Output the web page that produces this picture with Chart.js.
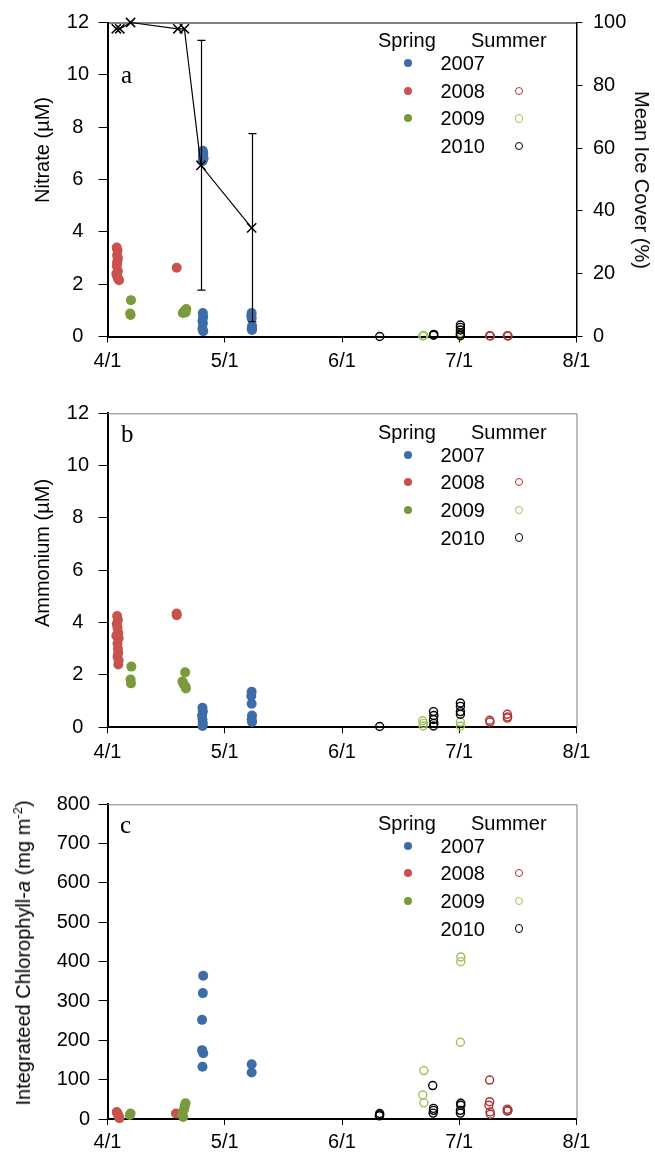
<!DOCTYPE html>
<html lang="en">
<head>
<meta charset="UTF-8">
<title>Nitrate, ammonium and chlorophyll-a</title>
<script src="https://cdn.jsdelivr.net/npm/chart.js@4"></script>
<style>
body{margin:0;background:#fff;font-family:'Liberation Sans',Arial,sans-serif;color:#000}
#page{position:relative;width:655px;height:1152px;overflow:hidden}
.panel{position:absolute;left:0;width:655px}
.panel canvas{position:absolute;left:0;top:0}
.ytitle{position:absolute;font-size:20px;line-height:20px;white-space:nowrap;transform:translate(-50%,-50%) rotate(-90deg)}
.ytitle.right{transform:translate(-50%,-50%) rotate(90deg)}
.ytitle sup{font-size:13px;line-height:0}
.letter{position:absolute;font-family:'Liberation Serif','Times New Roman',serif;font-size:25px;line-height:25px}
.lg{position:absolute;font-size:20px;line-height:20px;white-space:nowrap}
.dot{position:absolute;width:8px;height:8px;border-radius:50%;box-sizing:border-box}
</style>
</head>
<body>
<div id="page">
  <div class="panel" style="top:0;height:380px"><canvas id="chartA" width="655" height="380"></canvas></div>
  <div class="panel" style="top:390px;height:380px"><canvas id="chartB" width="655" height="380"></canvas></div>
  <div class="panel" style="top:780px;height:372px"><canvas id="chartC" width="655" height="372"></canvas></div>

  <div class="ytitle" style="left:42px;top:150px">Nitrate (µM)</div>
  <div class="ytitle right" style="left:642px;top:180px">Mean Ice Cover (%)</div>
  <div class="ytitle" style="left:42px;top:553px">Ammonium (µM)</div>
  <div class="ytitle" style="left:23px;top:953px">Integrateed Chlorophyll-<i>a</i> (mg m<sup>-2</sup>)</div>

  <div class="letter" style="left:121px;top:62px">a</div>
  <div class="letter" style="left:121px;top:421px">b</div>
  <div class="letter" style="left:120px;top:812px">c</div>
</div>

<script>
// x = days after 4/1, Excel puts a major tick every 30.5 days
const xTicks = [0, 30.5, 61, 91.5, 122];
const xLabels = ['4/1', '5/1', '6/1', '7/1', '8/1'];
const concTicks = [0, 2, 4, 6, 8, 10, 12];
const chlTicks = [0, 100, 200, 300, 400, 500, 600, 700, 800];
const iceTicks = [0, 20, 40, 60, 80, 100];

// panel a - nitrate (uM) as [day, value]
const no3Spring2007 = [[24.8,7.1],[24.9,7.0],[24.8,6.9],[25.0,6.8],[24.7,6.7],[24.8,0.9],[24.9,0.75],[24.7,0.6],[24.8,0.5],[24.7,0.3],[24.9,0.2],
  [37.5,0.9],[37.4,0.8],[37.5,0.7],[37.6,0.4],[37.5,0.3],[37.6,0.25]];
const no3Spring2008 = [[2.4,3.4],[2.6,3.3],[2.5,3.1],[2.7,3.0],[2.6,2.9],[2.5,2.8],[2.4,2.7],[2.7,2.5],[2.3,2.4],[2.5,2.3],[2.8,2.2],[3.0,2.15],[18.0,2.63]];
const no3Spring2009 = [[6.1,1.39],[5.9,0.88],[6.0,0.82],[19.6,0.9],[19.9,0.95],[20.2,1.0],[20.5,1.05],[20.3,0.92]];
const no3Summer2008 = [[99.4,0.03],[99.6,0.02],[104.0,0.03],[104.2,0.02]];
const no3Summer2009 = [[82.0,0.02],[82.3,0.04],[91.8,0.05],[91.7,0.15]];
const no3Summer2010 = [[70.8,0.0],[84.8,0.05],[84.9,0.08],[91.8,0.44],[91.8,0.35],[91.8,0.25],[91.8,0.1],[91.8,0.03]];

// mean ice cover (%) with error bars
const iceDays = [2.3, 3.2, 6.0, 18.3, 20.0, 24.3, 37.5];
const iceCover = [98, 98, 100, 98, 98, 54.5, 34.6];
const iceLow = [null, null, null, null, null, 14.8, 4.7];
const iceHigh = [null, null, null, null, null, 94.3, 64.6];

// panel b - ammonium (uM)
const nh4Spring2007 = [[24.7,0.75],[24.8,0.6],[24.6,0.45],[24.7,0.3],[24.8,0.15],[24.7,0.05],
  [37.5,1.36],[37.4,1.2],[37.5,0.9],[37.6,0.45],[37.5,0.3],[37.6,0.2]];
const nh4Spring2008 = [[2.5,4.25],[2.7,4.1],[2.4,3.95],[2.6,3.8],[2.8,3.6],[2.3,3.5],[2.9,3.4],[2.6,3.2],[2.7,3.0],[2.8,2.85],[2.6,2.7],[2.9,2.55],[2.8,2.4],[18.0,4.35],[18.0,4.28]];
const nh4Spring2009 = [[6.2,2.32],[6.0,1.83],[6.1,1.68],[20.2,2.1],[19.5,1.75],[19.8,1.65],[20.3,1.55],[20.4,1.48]];
const nh4Summer2008 = [[99.4,0.27],[99.5,0.2],[104.0,0.5],[104.1,0.4],[104.0,0.35]];
const nh4Summer2009 = [[82.0,0.25],[82.2,0.15],[82.1,0.05],[91.8,0.2],[91.8,0.05]];
const nh4Summer2010 = [[70.8,0.03],[84.8,0.6],[84.9,0.45],[84.8,0.3],[84.9,0.15],[84.8,0.05],[91.8,0.93],[91.8,0.8],[91.8,0.6],[91.8,0.5]];

// panel c - integrated chlorophyll-a (mg m-2)
const chlSpring2007 = [[24.9,364],[24.8,320],[24.6,252],[24.6,175],[24.9,167],[24.7,133],[37.5,139],[37.5,118]];
const chlSpring2008 = [[2.4,18],[2.6,14],[2.8,10],[3.0,5],[3.1,2],[17.8,14]];
const chlSpring2009 = [[6.0,14],[5.8,10],[20.3,40],[20.1,33],[19.9,25],[19.6,18],[19.4,10],[19.7,5]];
const chlSummer2008 = [[99.4,99],[99.4,44],[99.2,35],[99.5,18],[99.6,12],[104.0,25],[104.2,22],[104.0,20]];
const chlSummer2009 = [[82.3,123],[82.0,61],[82.3,41],[91.9,412],[91.9,400],[91.8,195],[91.8,40]];
const chlSummer2010 = [[70.8,14],[70.8,10],[70.7,8],[84.6,85],[84.8,27],[84.8,22],[84.7,15],[91.9,40],[91.9,35],[91.8,22],[91.8,15]];

const legendYears = ['2007', '2008', '2009', '2010'];

const FONT = "'Liberation Sans', Arial, sans-serif";
const SPRING = {2007: '#3e6ca6', 2008: '#c9514e', 2009: '#7a9a3e'};
const SUMMER = {2008: '#aa3533', 2009: '#9dc45a', 2010: '#000000'};

const pts = arr => arr.map(p => ({x: p[0], y: p[1]}));

function spring(arr, col) {
  return {data: pts(arr), pointRadius: 5, pointHoverRadius: 5, backgroundColor: col, pointBackgroundColor: col,
    borderWidth: 0, pointBorderWidth: 0, clip: false};
}
function summer(arr, col) {
  return {data: pts(arr), pointRadius: 4, pointHoverRadius: 4, backgroundColor: 'rgba(0,0,0,0)', pointBackgroundColor: 'rgba(0,0,0,0)',
    borderColor: col, pointBorderColor: col, pointBorderWidth: 1.4, borderWidth: 1.4, clip: false};
}

function xAxis(h, pad) {
  return {
    type: 'linear', min: 0, max: 122,
    afterBuildTicks: s => { s.ticks = xTicks.map(v => ({value: v})); },
    afterFit: s => { s.height = h; },
    ticks: {callback: (v, i) => xLabels[i], font: {size: 20, family: FONT}, color: '#000', padding: pad, maxRotation: 0, autoSkip: false},
    grid: {drawOnChartArea: false, tickLength: 6, color: '#000', lineWidth: 1},
    border: {color: '#000', width: 2}
  };
}
function yAxis(tickVals, align, pad) {
  return {
    type: 'linear', position: 'left', min: tickVals[0], max: tickVals[tickVals.length - 1],
    afterBuildTicks: s => { s.ticks = tickVals.map(v => ({value: v})); },
    afterFit: s => { s.width = 107.5; },
    ticks: {font: {size: 20, family: FONT}, color: '#000', padding: pad, crossAlign: align},
    grid: {drawOnChartArea: false, tickLength: 9, color: '#000', lineWidth: 1},
    border: {color: '#000', width: 2}
  };
}

// thin top / right frame of the plot area
const frame = {
  id: 'frame',
  beforeDatasetsDraw(chart, args, opts) {
    const {left, top, right, bottom} = chart.chartArea;
    const ctx = chart.ctx;
    ctx.save();
    ctx.strokeStyle = opts.color || '#000';
    ctx.lineWidth = 1;
    ctx.beginPath();
    ctx.moveTo(left, top + 0.5);
    ctx.lineTo(right + 0.5, top + 0.5);
    if (opts.right) ctx.lineTo(right + 0.5, bottom);
    ctx.stroke();
    ctx.restore();
  }
};

// ice cover error bars
const errorBars = {
  id: 'errorBars',
  afterDatasetsDraw(chart) {
    const y = chart.scales.y1, x = chart.scales.x;
    if (!y) return;
    const ctx = chart.ctx;
    ctx.save();
    ctx.strokeStyle = '#000';
    ctx.lineWidth = 1.2;
    iceDays.forEach((d, i) => {
      if (iceLow[i] == null) return;
      const px = Math.round(x.getPixelForValue(d)) + 0.5;
      const lo = y.getPixelForValue(iceLow[i]);
      const hi = y.getPixelForValue(iceHigh[i]);
      ctx.beginPath();
      ctx.moveTo(px, lo); ctx.lineTo(px, hi);
      ctx.moveTo(px - 4, lo); ctx.lineTo(px + 4, lo);
      ctx.moveTo(px - 4, hi); ctx.lineTo(px + 4, hi);
      ctx.stroke();
    });
    ctx.restore();
  }
};

function makeChart(id, datasets, scales, padTop, padRight, frameOpts) {
  return new Chart(document.getElementById(id), {
    type: 'scatter',
    data: {datasets},
    options: {
      responsive: false, animation: false, events: [],
      layout: {padding: {top: padTop, right: padRight, left: 0, bottom: 0}},
      scales,
      plugins: {legend: {display: false}, tooltip: {enabled: false}, frame: frameOpts}
    },
    plugins: [frame, errorBars]
  });
}

const iceSet = {
  data: iceDays.map((d, i) => ({x: d, y: iceCover[i]})), yAxisID: 'y1', showLine: true,
  borderColor: '#000', borderWidth: 1.2, pointStyle: 'crossRot', pointRadius: 6.5, pointHoverRadius: 6.5,
  pointBorderColor: '#000', pointBorderWidth: 1.5, backgroundColor: 'rgba(0,0,0,0)', clip: false
};

makeChart('chartA', [
  iceSet,
  summer(no3Summer2010, SUMMER[2010]), summer(no3Summer2009, SUMMER[2009]), summer(no3Summer2008, SUMMER[2008]),
  spring(no3Spring2007, SPRING[2007]), spring(no3Spring2009, SPRING[2009]), spring(no3Spring2008, SPRING[2008])
], {
  x: xAxis(43.5, 7),
  y: yAxis(concTicks, 'center', 9.5),
  y1: {
    type: 'linear', position: 'right', min: 0, max: 100,
    afterBuildTicks: s => { s.ticks = iceTicks.map(v => ({value: v})); },
    afterFit: s => { s.width = 78.5; },
    ticks: {font: {size: 20, family: FONT}, color: '#000', padding: 10.5},
    grid: {drawOnChartArea: false, tickLength: 6, color: '#000', lineWidth: 1},
    border: {color: '#000', width: 1.5}
  }
}, 22, 0, {color: '#000', right: false});

makeChart('chartB', [
  summer(nh4Summer2010, SUMMER[2010]), summer(nh4Summer2009, SUMMER[2009]), summer(nh4Summer2008, SUMMER[2008]),
  spring(nh4Spring2007, SPRING[2007]), spring(nh4Spring2009, SPRING[2009]), spring(nh4Spring2008, SPRING[2008])
], {
  x: xAxis(42.7, 7),
  y: yAxis(concTicks, 'center', 9.5)
}, 23.3, 78.5, {color: '#7f7f7f', right: true});

makeChart('chartC', [
  summer(chlSummer2010, SUMMER[2010]), summer(chlSummer2009, SUMMER[2009]), summer(chlSummer2008, SUMMER[2008]),
  spring(chlSpring2007, SPRING[2007]), spring(chlSpring2009, SPRING[2009]), spring(chlSpring2008, SPRING[2008])
], {
  x: xAxis(33, 5),
  y: yAxis(chlTicks, 'near', 8.5)
}, 24.3, 78.5, {color: '#7f7f7f', right: true});

// Spring / Summer legend, same layout in each panel
const page = document.getElementById('page');
function addEl(cls, css, html) {
  const el = document.createElement('div');
  el.className = cls;
  el.style.cssText = css;
  if (html) el.innerHTML = html;
  page.appendChild(el);
}
[0, 391.5, 782.5].forEach(top => {
  addEl('lg', `left:378px;top:${top + 30}px`, 'Spring');
  addEl('lg', `left:471px;top:${top + 30}px`, 'Summer');
  legendYears.forEach((yr, i) => {
    const cy = top + 63 + i * 27.7;
    addEl('lg', `left:440.5px;top:${cy - 10}px`, yr);
    if (SPRING[yr]) addEl('dot', `left:${408 - 4}px;top:${cy - 4}px;background:${SPRING[yr]}`);
    if (SUMMER[yr]) addEl('dot', `left:${518.7 - 4.2}px;top:${cy - 4.2}px;width:8.4px;height:8.4px;border:1.3px solid ${SUMMER[yr]}`);
  });
});
</script>
</body>
</html>
